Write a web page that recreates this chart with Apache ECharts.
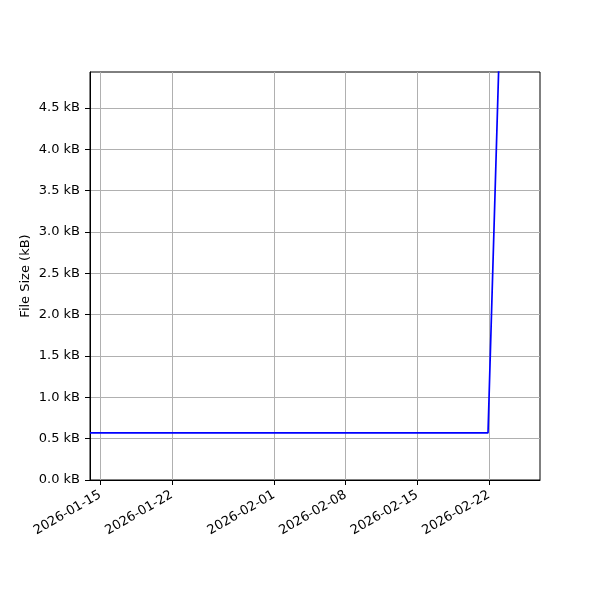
<!DOCTYPE html>
<html>
<head>
<meta charset="utf-8">
<script src="https://cdn.jsdelivr.net/npm/echarts@6/dist/echarts.min.js"></script>
<style>html,body{margin:0;padding:0;background:#fff}#c{width:600px;height:600px}</style>
</head>
<body>
<div id="c"></div>
<script>
// Data
var dates = ["2026-01-14T00:00:00", "2026-02-21T22:00:00", "2026-02-23T00:00:00"];
var sizesKB = [0.57, 0.57, 5.14];
var xTickLabels = ["2026-01-15", "2026-01-22", "2026-02-01", "2026-02-08", "2026-02-15", "2026-02-22"];
var yTicks = [0, 0.5, 1.0, 1.5, 2.0, 2.5, 3.0, 3.5, 4.0, 4.5];
var xMin = "2026-01-14T00:00:00", xMax = "2026-02-27T00:00:00";
var yMax = 4.935;

function ts(s){ return new Date(s.length === 10 ? s + "T00:00:00" : s).getTime(); }
function pad(n){ return n < 10 ? "0" + n : "" + n; }
function fmtDate(v){ var d = new Date(v); return d.getFullYear() + "-" + pad(d.getMonth()+1) + "-" + pad(d.getDate()); }

var tickVals = xTickLabels.map(ts);
var seriesData = dates.map(function(d, i){ return [ts(d), sizesKB[i]]; });

var font = "DejaVu Sans";
var chart = echarts.init(document.getElementById('c'), null, {renderer: 'canvas'});
chart.setOption({
  animation: false,
  backgroundColor: '#fff',
  grid: {left: 90, right: 60, top: 72, bottom: 120, show: true, borderColor: '#000', borderWidth: 1, backgroundColor: 'transparent'},
  xAxis: {
    type: 'value',
    min: ts(xMin), max: ts(xMax),
    axisLine: {show: true, lineStyle: {color: '#000', width: 1}},
    axisTick: {show: true, length: 5, lineStyle: {color: '#000'}, customValues: tickVals},
    axisLabel: {customValues: tickVals, rotate: 30, margin: 14, color: '#000', fontFamily: font, fontSize: 13,
      formatter: function(v){ return fmtDate(v); }, hideOverlap: false},
    splitLine: {show: true, lineStyle: {color: '#b0b0b0', width: 1}}
  },
  yAxis: {
    type: 'value',
    min: 0, max: yMax, interval: 0.5,
    name: 'File Size (kB)', nameLocation: 'middle', nameGap: 58, nameRotate: 90, nameMoveOverlap: false,
    nameTextStyle: {color: '#000', fontFamily: font, fontSize: 13},
    axisLine: {show: true, lineStyle: {color: '#000', width: 1}},
    axisTick: {show: true, length: 5, lineStyle: {color: '#000'}, customValues: yTicks},
    axisLabel: {customValues: yTicks, margin: 10, color: '#000', fontFamily: font, fontSize: 13,
      formatter: function(v){ return v.toFixed(1) + ' kB'; }},
    splitLine: {show: true, lineStyle: {color: '#b0b0b0', width: 1}}
  },
  series: [{
    type: 'line',
    data: seriesData,
    showSymbol: false,
    clip: true,
    lineStyle: {color: '#0000ff', width: 1.7},
    itemStyle: {color: '#0000ff'}
  }]
});
</script>
</body>
</html>
